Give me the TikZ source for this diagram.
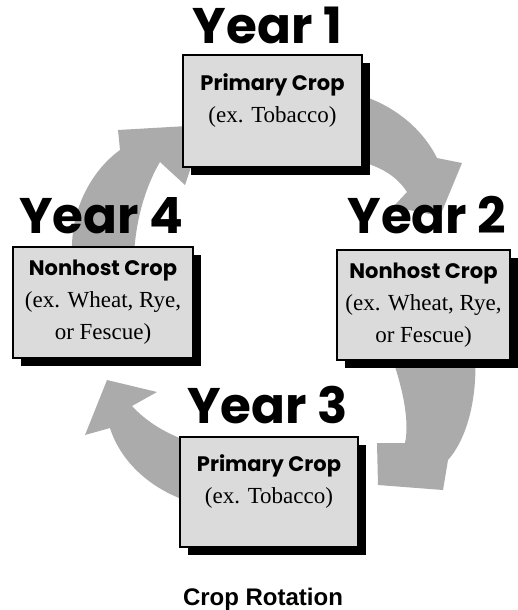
\documentclass[tikz,border=0pt]{standalone}
\usepackage{fontspec}
\setmainfont{Liberation Serif}
\newfontfamily\yearfont{Poppins}
\newfontfamily\capfont{Liberation Sans}
\usepackage{tikz}
\usetikzlibrary{positioning, shadows}

\newcommand{\cropname}[1]{{\yearfont\bfseries\fontsize{21}{32}\selectfont #1}}

\begin{document}
\begin{tikzpicture}[x=1pt, y=-1pt,
    yearlabel/.style={font=\yearfont\bfseries\fontsize{50}{50}\selectfont, inner sep=0pt},
    cropbox/.style={draw, line width=1.2pt, fill=black!14, align=center,
        font=\fontsize{23}{32}\selectfont,
        drop shadow={shadow xshift=8pt, shadow yshift=-8pt, fill=black, opacity=1}},
    cyclearrow/.style={fill=black!33},
    captiontext/.style={font=\capfont\bfseries\fontsize{24}{28}\selectfont, inner sep=0pt}]

    \useasboundingbox (0,0) rectangle (517,610);

    % arrows round the cycle
    \fill[cyclearrow] (340,90) .. controls (385,98) and (420,124) .. (437,158)
        -- (462,163) -- (440,216) -- (393,207) -- (407,192)
        .. controls (396,175) and (378,164) .. (345,158) -- cycle;
    \fill[cyclearrow] (390,352) -- (475,352) .. controls (478,400) and (466,440) .. (448,460)
        -- (443,490) -- (378,485) -- (377,443) -- (405,443)
        .. controls (410,420) and (402,385) .. (390,352) -- cycle;
    \fill[cyclearrow] (200,445) .. controls (165,435) and (145,420) .. (132,406)
        -- (157,392) -- (107,380) -- (85,435) -- (110,428)
        .. controls (120,460) and (150,492) .. (200,505) -- cycle;
    \fill[cyclearrow] (72,255) .. controls (70,205) and (95,168) .. (120,150)
        -- (118,130) -- (205,125) -- (185,185) -- (160,162)
        .. controls (148,182) and (136,215) .. (134,255) -- cycle;

    \node[cropbox, minimum width=179pt, minimum height=112pt] (b1) at (272.5,111)
        {\cropname{Primary Crop}\\(ex. Tobacco)\\[-6pt]\mbox{}};
    \node[cropbox, minimum width=173pt, minimum height=110pt] (b2) at (423.5,305)
        {\cropname{Nonhost Crop}\\(ex. Wheat, Rye,\\or Fescue)};
    \node[cropbox, minimum width=178pt, minimum height=110pt] (b3) at (269,492)
        {\cropname{Primary Crop}\\(ex. Tobacco)\\[-6pt]\mbox{}};
    \node[cropbox, minimum width=180pt, minimum height=111pt] (b4) at (103,302.5)
        {\cropname{Nonhost Crop}\\(ex. Wheat, Rye,\\or Fescue)};

    \node[yearlabel] (y1) [above=10pt of b1, xshift=-5pt] {Year 1};
    \node[yearlabel] (y2) [above=15pt of b2, xshift=3.5pt] {Year 2};
    \node[yearlabel] (y3) [above=12pt of b3, xshift=-1.5pt] {Year 3};
    \node[yearlabel] (y4) [above=12pt of b4, xshift=-1.5pt] {Year 4};

    \node[captiontext] (cap) [below=40pt of b3, xshift=-6pt] {Crop Rotation};
\end{tikzpicture}
\end{document}
